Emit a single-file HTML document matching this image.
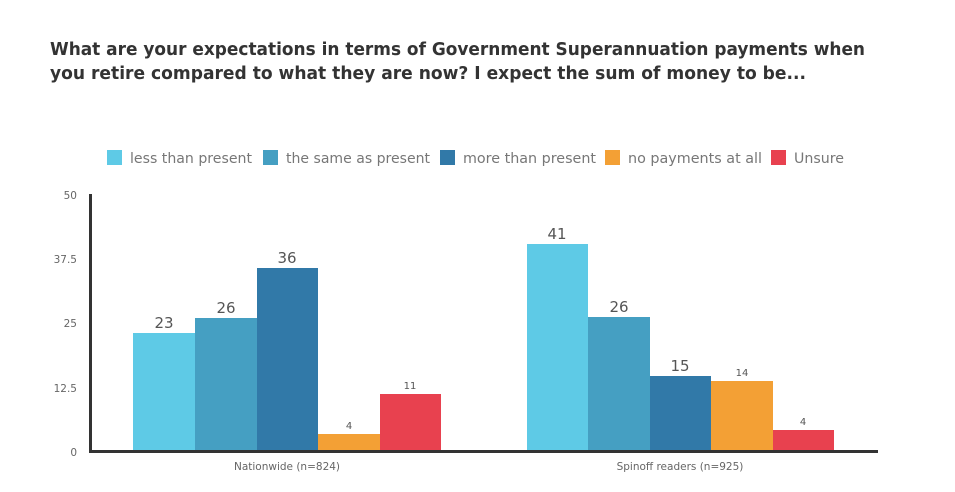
<!DOCTYPE html>
<html><head><meta charset="utf-8"><style>
body{margin:0;background:#fff;width:955px;height:488px;overflow:hidden;font-family:"DejaVu Sans","Liberation Sans",sans-serif}
</style></head><body>
<svg width="955" height="488" xmlns="http://www.w3.org/2000/svg" font-family="DejaVu Sans, Liberation Sans, sans-serif">
<text x="50" y="55" font-size="18" font-weight="bold" fill="#333" textLength="815" lengthAdjust="spacingAndGlyphs">What are your expectations in terms of Government Superannuation payments when</text>
<text x="50" y="79" font-size="18" font-weight="bold" fill="#333" textLength="756" lengthAdjust="spacingAndGlyphs">you retire compared to what they are now? I expect the sum of money to be...</text>
<g font-size="14.5" fill="#777">
<rect x="107" y="150" width="15" height="15" fill="#5ecae6"/><text x="130" y="163" textLength="122" lengthAdjust="spacingAndGlyphs">less than present</text>
<rect x="263" y="150" width="15" height="15" fill="#459fc2"/><text x="286" y="163" textLength="144" lengthAdjust="spacingAndGlyphs">the same as present</text>
<rect x="440" y="150" width="15" height="15" fill="#3179a8"/><text x="463" y="163" textLength="133" lengthAdjust="spacingAndGlyphs">more than present</text>
<rect x="605" y="150" width="15" height="15" fill="#f3a035"/><text x="628" y="163" textLength="134" lengthAdjust="spacingAndGlyphs">no payments at all</text>
<rect x="771" y="150" width="15" height="15" fill="#e8414f"/><text x="794" y="163" textLength="50" lengthAdjust="spacingAndGlyphs">Unsure</text>
</g>
<g font-size="10.5" fill="#666" text-anchor="end">
<text x="77" y="199">50</text><text x="77" y="263">37.5</text><text x="77" y="327">25</text><text x="77" y="392">12.5</text><text x="77" y="456">0</text>
</g>
<g>
<rect x="133" y="333" width="62" height="118" fill="#5ecae6"/>
<rect x="195" y="318" width="62" height="133" fill="#459fc2"/>
<rect x="257" y="268" width="61" height="183" fill="#3179a8"/>
<rect x="318" y="434" width="62" height="17" fill="#f3a035"/>
<rect x="380" y="394" width="61" height="57" fill="#e8414f"/>
<rect x="527" y="244" width="61" height="207" fill="#5ecae6"/>
<rect x="588" y="317" width="62" height="134" fill="#459fc2"/>
<rect x="650" y="376" width="61" height="75" fill="#3179a8"/>
<rect x="711" y="381" width="62" height="70" fill="#f3a035"/>
<rect x="773" y="430" width="61" height="21" fill="#e8414f"/>
</g>
<g font-size="15" fill="#555" text-anchor="middle">
<text x="164" y="328">23</text><text x="226" y="313">26</text><text x="287" y="263">36</text>
<text x="557" y="239">41</text><text x="619" y="312">26</text><text x="680" y="371">15</text>
</g>
<g font-size="10" fill="#555" text-anchor="middle">
<text x="349" y="429">4</text><text x="410" y="389">11</text><text x="742" y="376">14</text><text x="803" y="425">4</text>
</g>
<rect x="89" y="194" width="3" height="259" fill="#333"/>
<rect x="89" y="450" width="789" height="3" fill="#333"/>
<g font-size="10.5" fill="#666" text-anchor="middle">
<text x="287" y="470">Nationwide (n=824)</text><text x="680" y="470">Spinoff readers (n=925)</text>
</g>
</svg>
</body></html>
